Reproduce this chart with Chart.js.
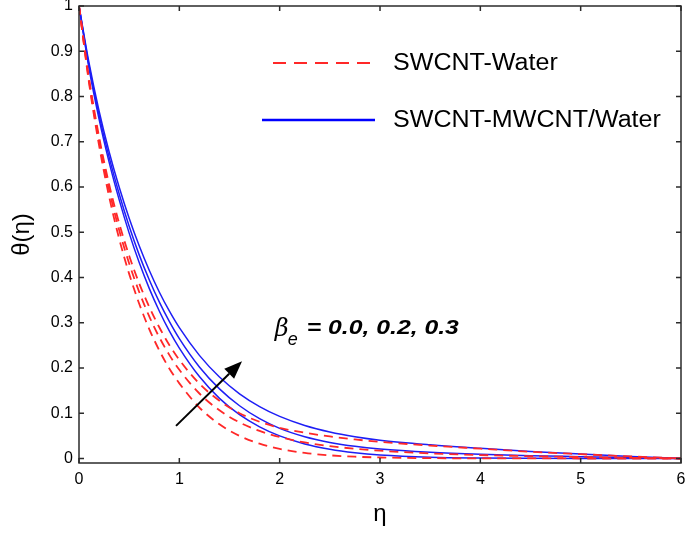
<!DOCTYPE html>
<html>
<head>
<meta charset="utf-8">
<script src="https://cdn.jsdelivr.net/npm/chart.js@4.4.1/dist/chart.umd.min.js"></script>
<style>
  html, body { margin: 0; padding: 0; background: #fff; }
</style>
</head>
<body>
<canvas id="theta-chart" width="685" height="534"></canvas>
<script>
// eta values (x axis)
const eta = [0, 0.1, 0.2, 0.3, 0.4, 0.5, 0.6, 0.7, 0.8, 0.9, 1.0, 1.2, 1.4, 1.6, 1.8, 2.0, 2.25, 2.5, 2.75, 3.0, 3.5, 4.0, 4.5, 5.0, 5.5, 6.0];

// SWCNT-Water, beta_e = 0.0, 0.2, 0.3
const swWater00 = [1, 0.830, 0.692, 0.579, 0.486, 0.408, 0.342, 0.286, 0.239, 0.199, 0.166, 0.1126, 0.0755, 0.050, 0.0328, 0.0213, 0.0123, 0.0070, 0.0039, 0.0022, 0.0007, 0.0002, 0.0001, 0, 0, 0];
const swWater02 = [1, 0.835, 0.702, 0.594, 0.505, 0.431, 0.368, 0.314, 0.268, 0.229, 0.196, 0.1436, 0.1064, 0.0796, 0.0608, 0.0474, 0.0355, 0.0273, 0.0215, 0.0172, 0.0113, 0.0076, 0.0051, 0.0032, 0.0015, 0];
const swWater03 = [1, 0.840, 0.711, 0.606, 0.520, 0.448, 0.387, 0.335, 0.290, 0.251, 0.218, 0.1653, 0.1276, 0.100, 0.0811, 0.0678, 0.0569, 0.0488, 0.0421, 0.0367, 0.0286, 0.0217, 0.0149, 0.0095, 0.0045, 0];

// SWCNT-MWCNT/Water, beta_e = 0.0, 0.2, 0.3
const hybrid00 = [1, 0.862, 0.750, 0.655, 0.572, 0.498, 0.433, 0.376, 0.326, 0.282, 0.244, 0.181, 0.1329, 0.0968, 0.070, 0.0499, 0.0322, 0.0204, 0.0127, 0.0078, 0.0029, 0.0011, 0.0004, 0.0001, 0, 0];
const hybrid02 = [1, 0.868, 0.759, 0.666, 0.585, 0.513, 0.450, 0.395, 0.346, 0.303, 0.265, 0.2023, 0.1538, 0.1165, 0.088, 0.0665, 0.048, 0.0355, 0.0268, 0.0209, 0.0137, 0.0092, 0.0062, 0.004, 0.0018, 0];
const hybrid03 = [1, 0.874, 0.768, 0.678, 0.600, 0.531, 0.470, 0.416, 0.368, 0.326, 0.289, 0.2278, 0.1799, 0.1429, 0.1147, 0.093, 0.073, 0.0586, 0.0482, 0.0405, 0.0303, 0.0224, 0.0154, 0.0098, 0.0046, 0];

const xTicks = [0, 1, 2, 3, 4, 5, 6];
const yTicks = [0, 0.1, 0.2, 0.3, 0.4, 0.5, 0.6, 0.7, 0.8, 0.9, 1];

const legendNames = ["SWCNT-Water", "SWCNT-MWCNT/Water"];
const annotationText = "= 0.0, 0.2, 0.3";
// arrow in data units: [eta, theta] tail and head
const arrowTail = [0.967, 0.072];
const arrowHead = [1.625, 0.215];

const red = 'rgb(255, 40, 40)';
const blue = 'rgb(30, 30, 245)';

function toPoints(ys) {
    return eta.map((x, i) => ({ x: x, y: ys[i] }));
}

function redSet(label, ys) {
    return {
        label: label,
        data: toPoints(ys),
        borderColor: red,
        borderWidth: 1.8,
        borderDash: [9, 6],
        pointRadius: 0,
        fill: false,
        cubicInterpolationMode: 'monotone'
    };
}

function blueSet(label, ys) {
    return {
        label: label,
        data: toPoints(ys),
        borderColor: blue,
        borderWidth: 1.5,
        pointRadius: 0,
        fill: false,
        cubicInterpolationMode: 'monotone'
    };
}

const framePlugin = {
    id: 'frame',
    afterDraw(chart) {
        const { ctx, chartArea: a, scales: { x, y } } = chart;
        ctx.save();

        // box and inward ticks
        ctx.strokeStyle = '#2b2b2b';
        ctx.lineWidth = 1.5;
        ctx.strokeRect(a.left, a.top, a.right - a.left, a.bottom - a.top);
        ctx.beginPath();
        xTicks.forEach(v => {
            const px = x.getPixelForValue(v);
            ctx.moveTo(px, a.bottom); ctx.lineTo(px, a.bottom - 5);
            ctx.moveTo(px, a.top); ctx.lineTo(px, a.top + 5);
        });
        yTicks.forEach(v => {
            const py = y.getPixelForValue(v);
            ctx.moveTo(a.left, py); ctx.lineTo(a.left + 5, py);
            ctx.moveTo(a.right, py); ctx.lineTo(a.right - 5, py);
        });
        ctx.stroke();

        // legend
        const lx0 = a.left + 194, lx1 = a.left + 296, tx = a.left + 314;
        ctx.lineWidth = 2.2;
        ctx.strokeStyle = red;
        ctx.setLineDash([13, 8]);
        ctx.beginPath();
        ctx.moveTo(lx0, a.top + 57); ctx.lineTo(lx1, a.top + 57);
        ctx.stroke();
        ctx.setLineDash([]);
        ctx.strokeStyle = 'rgb(0, 0, 255)';
        ctx.lineWidth = 2.5;
        ctx.beginPath();
        ctx.moveTo(lx0 - 11, a.top + 114); ctx.lineTo(lx1, a.top + 114);
        ctx.stroke();

        ctx.fillStyle = '#000';
        ctx.font = '23px "Liberation Sans", Arial, sans-serif';
        ctx.textBaseline = 'middle';
        [[legendNames[0], a.top + 58], [legendNames[1], a.top + 115]].forEach(([t, ty]) => {
            ctx.save();
            ctx.translate(tx, ty);
            ctx.scale(1.09, 1);
            ctx.fillText(t, 0, 0);
            ctx.restore();
        });

        // arrow
        const x0 = x.getPixelForValue(arrowTail[0]), y0 = y.getPixelForValue(arrowTail[1]);
        const x1 = x.getPixelForValue(arrowHead[0]), y1 = y.getPixelForValue(arrowHead[1]);
        const ang = Math.atan2(y1 - y0, x1 - x0);
        const headLen = 18, headW = 7;
        const bx = x1 - headLen * Math.cos(ang), by = y1 - headLen * Math.sin(ang);
        ctx.strokeStyle = '#000';
        ctx.lineWidth = 2;
        ctx.beginPath();
        ctx.moveTo(x0, y0); ctx.lineTo(bx, by);
        ctx.stroke();
        ctx.fillStyle = '#000';
        ctx.beginPath();
        ctx.moveTo(x1, y1);
        ctx.lineTo(bx + headW * Math.sin(ang), by - headW * Math.cos(ang));
        ctx.lineTo(bx - headW * Math.sin(ang), by + headW * Math.cos(ang));
        ctx.closePath();
        ctx.fill();

        // beta_e label
        const bxp = x.getPixelForValue(1.95), byp = y.getPixelForValue(0.27);
        ctx.textBaseline = 'alphabetic';
        ctx.font = 'italic 24px "DejaVu Serif", serif';
        ctx.fillText('β', bxp, byp);
        ctx.font = 'italic 18px "Liberation Sans", Arial, sans-serif';
        ctx.fillText('e', bxp + 13, byp + 9);
        ctx.save();
        ctx.translate(bxp + 32, byp - 2);
        ctx.scale(1.18, 1);
        ctx.font = 'italic bold 21px "Liberation Sans", Arial, sans-serif';
        ctx.fillText(annotationText, 0, 0);
        ctx.restore();

        ctx.restore();
    }
};

const thetaChart = new Chart(document.getElementById("theta-chart"), {
    type: "line",
    data: {
        datasets: [
            redSet("SWCNT-Water 0.0", swWater00),
            redSet("SWCNT-Water 0.2", swWater02),
            redSet("SWCNT-Water 0.3", swWater03),
            blueSet("SWCNT-MWCNT/Water 0.0", hybrid00),
            blueSet("SWCNT-MWCNT/Water 0.2", hybrid02),
            blueSet("SWCNT-MWCNT/Water 0.3", hybrid03)
        ]
    },
    options: {
        responsive: false,
        animation: false,
        events: [],
        layout: {
            padding: { top: 6, right: 4, left: 0, bottom: 0 }
        },
        plugins: {
            legend: { display: false },
            tooltip: { enabled: false }
        },
        scales: {
            x: {
                type: 'linear',
                min: 0,
                max: 6,
                afterBuildTicks: s => { s.ticks = xTicks.map(v => ({ value: v })); },
                afterFit: s => { s.height = 71; s.paddingLeft = 0; s.paddingRight = 0; },
                grid: { display: false, drawTicks: false },
                border: { display: false },
                ticks: {
                    color: '#000',
                    padding: 7,
                    maxRotation: 0,
                    font: { family: '"Liberation Sans", Arial, sans-serif', size: 16 }
                },
                title: {
                    display: true,
                    text: 'η',
                    color: '#000',
                    font: { family: '"Liberation Sans", Arial, sans-serif', size: 24 },
                    padding: { top: 0, bottom: 5 }
                }
            },
            y: {
                type: 'linear',
                min: -0.01,
                max: 1,
                afterBuildTicks: s => { s.ticks = yTicks.map(v => ({ value: v })); },
                afterFit: s => { s.width = 79; s.paddingTop = 0; s.paddingBottom = 0; },
                grid: { display: false, drawTicks: false },
                border: { display: false },
                ticks: {
                    color: '#000',
                    padding: 6,
                    callback: v => String(Math.round(v * 10) / 10),
                    font: { family: '"Liberation Sans", Arial, sans-serif', size: 16 }
                },
                title: {
                    display: true,
                    text: 'θ(η)',
                    color: '#000',
                    font: { family: '"Liberation Sans", Arial, sans-serif', size: 24 },
                    padding: { top: 8, bottom: 0 }
                }
            }
        }
    },
    plugins: [framePlugin]
});
</script>
</body>
</html>
